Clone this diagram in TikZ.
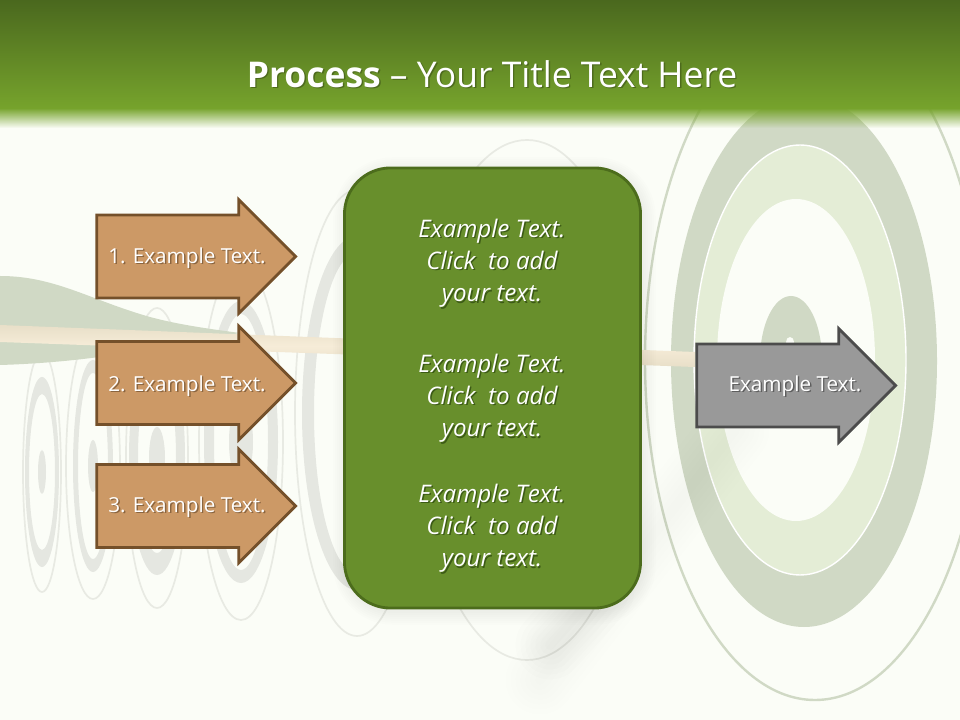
\documentclass[tikz,border=0pt]{standalone}
\usepackage{fontspec}
\setmainfont{Open Sans}
\usetikzlibrary{shapes.arrows,fadings}
\definecolor{pagebg}{HTML}{FBFDF7}
\definecolor{bandtop}{HTML}{4A681E}
\definecolor{bandlow}{HTML}{76A32C}
\definecolor{ringdark}{HTML}{D0D9C5}
\definecolor{ringlight}{HTML}{E4EDD6}
\definecolor{ringgrey}{HTML}{E5E7E1}
\definecolor{thingrey}{HTML}{E8EAE3}
\definecolor{boxgreen}{HTML}{688F2C}
\definecolor{boxedge}{HTML}{4C6C1C}
\definecolor{tanfill}{HTML}{CC9966}
\definecolor{tanedge}{HTML}{74502A}
\definecolor{tanshade}{HTML}{8A6540}
\definecolor{greenshade}{HTML}{3C5A16}
\definecolor{greyshade}{HTML}{5E5E5E}
\definecolor{shaftmid}{HTML}{F6ECD8}
\definecolor{shaftedge}{HTML}{E8DFC8}
\newcommand{\shtext}[2]{\leavevmode\rlap{\kern1pt\raisebox{-1pt}{\textcolor{#1}{#2}}}#2}
\tikzset{
  stepshape/.style={single arrow,single arrow head extend=0.385cm,single arrow tip angle=90,
    minimum height=4.97cm,inner xsep=0pt,inner ysep=1cm,line width=2pt},
  steparrow/.style={stepshape,draw=tanedge,fill=tanfill},
  resultarrow/.style={stepshape,draw=black!70,fill=black!40},
  steptext/.style={text=white,font=\fontsize{14.7}{17}\selectfont},
  boxtext/.style={text=white,align=center,font=\fontsize{17.2}{22.8}\selectfont\itshape},
}
\begin{document}
\begin{tikzpicture}[x=0.025cm,y=-0.025cm]
\useasboundingbox(0,0)rectangle(960,720);
\clip(0,0)rectangle(960,720);
\fill[pagebg](0,0)rectangle(960,720);
% small targets in the back
\foreach \cx/\cy/\trx/\try/\orx/\ory/\irx/\iry/\brx/\bry in {
  42/472/19/120/17/95/13/78/4/22,
  93/466/27/133/20/106/15/93/5/26,
  157/458/31/150/28/117/19/95/8/31,
  241/442/42/178/37/141/27/128/12/40,
  357/413/62/223/55/177/43/160/0/0,
  527/400/112/260/0/0/0/0/0/0}{
  \draw[thingrey,line width=1.2pt](\cx,\cy)ellipse[x radius=\trx,y radius=\try];
  \fill[ringgrey,even odd rule](\cx,\cy)ellipse[x radius=\orx,y radius=\ory]
    (\cx,\cy)ellipse[x radius=\irx,y radius=\iry];
  \fill[ringgrey](\cx,\cy)ellipse[x radius=\brx,y radius=\bry];
}
% big target
\draw[ringdark,line width=1.7pt](815,360)ellipse[x radius=170,y radius=340];
\fill[ringdark](804,361)ellipse[x radius=133,y radius=266];
\fill[ringlight,draw=white,line width=1pt](800,360)ellipse[x radius=106,y radius=215];
\fill[pagebg](796,360)ellipse[x radius=79,y radius=161];
\fill[ringdark](791,360)ellipse[x radius=31,y radius=64];
\fill[pagebg](790,342)ellipse[x radius=4,y radius=5];
% shadow of the arrow
\foreach \w in {10,20,...,70}{
  \draw[black,opacity=0.004,line width=\w*0.7pt,line cap=round](735,430)--(540,680);
  \draw[black,opacity=0.009,line width=\w*0.7pt,line cap=round](600,590)--(550,645);
}
% arrow
\fill[ringdark](0,276).. controls (55,276) and (90,300) ..(150,317)
  .. controls (180,325) and (210,329) ..(240,333)
  .. controls (170,345) and (100,362) ..(0,365)--cycle;
\shade[top color=shaftedge,bottom color=shaftedge,middle color=shaftmid]
  (0,325)--(695,352)--(695,367)--(0,342)--cycle;
% header band
\shade[top color=bandtop,bottom color=bandlow](0,0)rectangle(960,108);
\fill[bandlow,path fading=south](0,108)rectangle(960,128);
\node(Title)[text=white]at(492,75){\fontsize{25.2}{30}\selectfont\shtext{black!35!bandlow}{\textbf{Process} – Your Title Text Here}};
% steps
\node(S1)[steparrow]at(175.5,256.5){};
\node(S2)[steparrow]at(175.5,383){};
\node(S3)[steparrow]at(175.5,506){};
\node(T1)[steptext]at(187,258.5){\shtext{tanshade}{1. Example Text.}};
\node(T2)[steptext]at(187,386.5){\shtext{tanshade}{2. Example Text.}};
\node(T3)[steptext]at(187,507.5){\shtext{tanshade}{3. Example Text.}};
% middle box
\foreach \w in {4,8,...,28}{
  \draw[black,opacity=0.006,line width=\w*0.7pt,rounded corners=1.15cm](347,171)rectangle(642,611);
}
\node(Box)[draw=boxedge,fill=boxgreen,line width=2pt,rounded corners=1.15cm,
  minimum width=7.4cm,minimum height=11cm]at(492.5,388){};
\node(B1)[boxtext]at(492,264){\shtext{greenshade}{Example Text.}\\\shtext{greenshade}{Click\ \ to add}\\\shtext{greenshade}{your text.}};
\node(B2)[boxtext]at(492,399){\shtext{greenshade}{Example Text.}\\\shtext{greenshade}{Click\ \ to add}\\\shtext{greenshade}{your text.}};
\node(B3)[boxtext]at(492,529){\shtext{greenshade}{Example Text.}\\\shtext{greenshade}{Click\ \ to add}\\\shtext{greenshade}{your text.}};
% result
\node(R)[resultarrow]at(775.5,385.5){};
\node(RT)[steptext]at(795,386.5){\shtext{greyshade}{Example Text.}};
\end{tikzpicture}
\end{document}
